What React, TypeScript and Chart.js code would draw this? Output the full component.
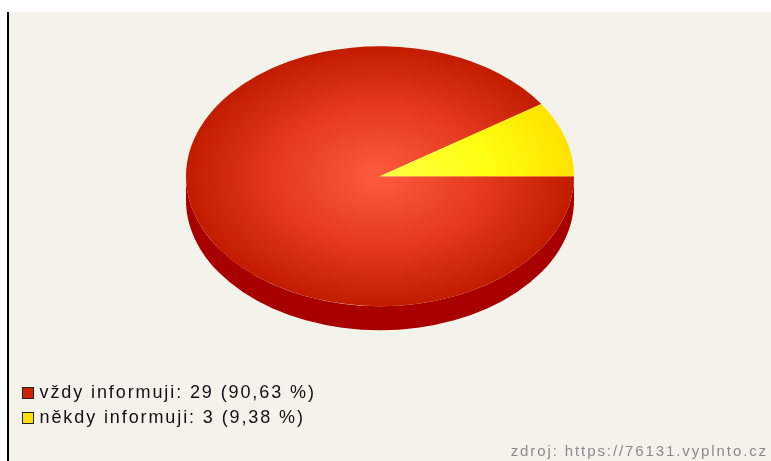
import React, { useEffect, useRef } from "react";
import { Chart, registerables } from "chart.js";

Chart.register(...registerables);

const categories = ["vždy informuji", "někdy informuji"];
const values = [29, 3];
const topColorStops = [
  ["#ff5b3d", "#e4391d", "#c21c00"],
  ["#ffff48", "#ffff12", "#ffe200"],
];
const sideColors = ["#a80000", "#c8a800"];
const legendColors = ["#cc2200", "#ffe000"];
const sourceText = "zdroj: https://76131.vyplnto.cz";

const SQUASH = 0.67;
const DEPTH = 24;
const BG = "#f4f3eb";

const pie3dPlugin = {
  id: "pie3d",
  beforeDatasetsDraw(chart: any) {
    const ctx = chart.ctx as CanvasRenderingContext2D;
    ctx.save();
    ctx.scale(1, SQUASH);
    const meta = chart.getDatasetMeta(0);
    const D = DEPTH / SQUASH;
    meta.data.forEach((arc: any, i: number) => {
      const { x, y, startAngle, endAngle, outerRadius } = arc.getProps(
        ["x", "y", "startAngle", "endAngle", "outerRadius"],
        true
      );
      for (let k = -1; k <= 1; k++) {
        const lo = Math.max(startAngle, 2 * Math.PI * k);
        const hi = Math.min(endAngle, 2 * Math.PI * k + Math.PI);
        if (hi > lo) {
          ctx.beginPath();
          ctx.arc(x, y, outerRadius, lo, hi);
          ctx.arc(x, y + D, outerRadius, hi, lo, true);
          ctx.closePath();
          ctx.fillStyle = sideColors[i];
          ctx.fill();
        }
      }
    });
  },
  afterDatasetsDraw(chart: any) {
    chart.ctx.restore();
  },
};

const legendPlugin = {
  id: "customLegend",
  afterDraw(chart: any) {
    const ctx = chart.ctx as CanvasRenderingContext2D;
    const total = values.reduce((a, b) => a + b, 0);
    ctx.save();
    ctx.font = '18px "Liberation Sans", Arial, sans-serif';
    (ctx as any).letterSpacing = "1.9px";
    ctx.textAlign = "left";
    ctx.textBaseline = "alphabetic";
    categories.forEach((cat, i) => {
      const baseY = 386 + i * 25;
      ctx.fillStyle = legendColors[i];
      ctx.fillRect(13, baseY - 11, 12, 12);
      ctx.strokeStyle = "#222";
      ctx.lineWidth = 1;
      ctx.strokeRect(13.5, baseY - 10.5, 11, 11);
      const pct = ((values[i] / total) * 100).toFixed(2).replace(".", ",");
      ctx.fillStyle = "#111";
      ctx.fillText(`${cat}: ${values[i]} (${pct} %)`, 30.5, baseY);
    });
    ctx.font = '15px "Liberation Sans", Arial, sans-serif';
    (ctx as any).letterSpacing = "1.9px";
    ctx.fillStyle = "#8a8a8a";
    ctx.textAlign = "right";
    ctx.fillText(sourceText, 759, 444);
    ctx.restore();
  },
};

export default function App() {
  const canvasRef = useRef<HTMLCanvasElement | null>(null);

  useEffect(() => {
    if (!canvasRef.current) return;
    const chart = new Chart(canvasRef.current, {
      type: "pie",
      data: {
        labels: categories,
        datasets: [
          {
            data: values,
            borderWidth: 0,
            clip: false as any,
            backgroundColor: (c: any) => {
              const i = c.dataIndex;
              const chartArea = c.chart.chartArea;
              if (!chartArea) return legendColors[i];
              const cx = (chartArea.left + chartArea.right) / 2;
              const cy = (chartArea.top + chartArea.bottom) / 2;
              const r = Math.min(chartArea.width, chartArea.height) / 2;
              const g = c.chart.ctx.createRadialGradient(cx, cy, 0, cx, cy, r);
              const stops = topColorStops[i];
              g.addColorStop(0, stops[0]);
              g.addColorStop(0.55, stops[1]);
              g.addColorStop(1, stops[2]);
              return g;
            },
          },
        ],
      },
      options: {
        animation: false,
        responsive: true,
        maintainAspectRatio: false,
        rotation: 90,
        layout: { padding: { top: 51, left: 177, right: 197, bottom: 10 } },
        plugins: {
          legend: { display: false },
          tooltip: { enabled: false },
        },
        events: [],
      },
      plugins: [pie3dPlugin, legendPlugin],
    });
    return () => chart.destroy();
  }, []);

  return (
    <div
      style={{
        position: "fixed",
        left: 7,
        top: 12,
        width: 764,
        height: 449,
        borderLeft: "2px solid #000",
        background: BG,
        boxSizing: "border-box",
      }}
    >
      <div style={{ position: "relative", width: 762, height: 449 }}>
        <canvas ref={canvasRef} />
      </div>
    </div>
  );
}
